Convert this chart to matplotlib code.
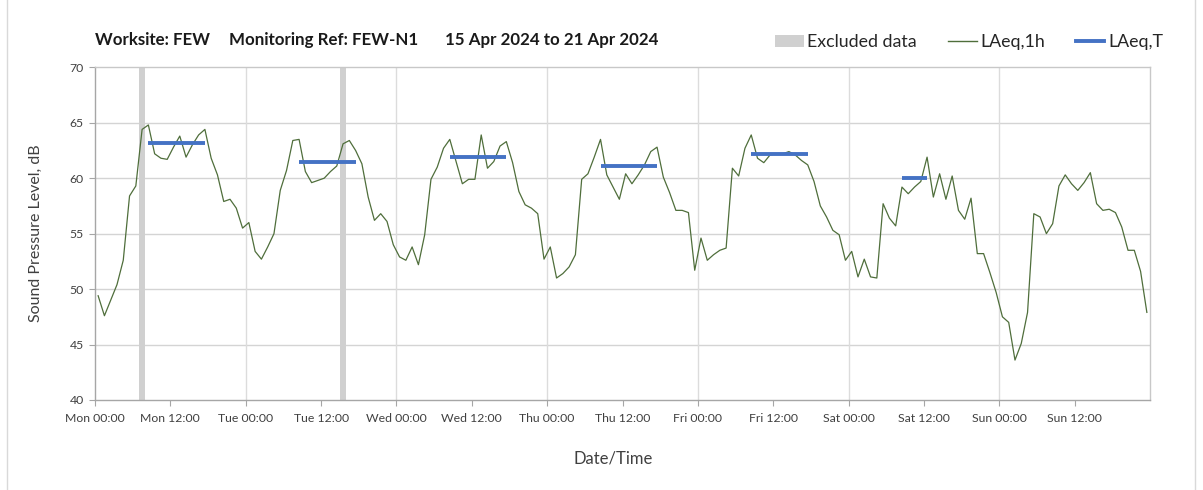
import numpy as np
import matplotlib
matplotlib.use("Agg")
import matplotlib.pyplot as plt
from matplotlib.patches import Patch
from matplotlib.lines import Line2D

plt.rcParams['font.family'] = ['Lato', 'DejaVu Sans']

# ---- data ----
laeq_1h = [
    49.4, 47.6, 49.0, 50.4, 52.6, 58.4, 59.3, 64.4, 64.8, 62.2,
    61.8, 61.7, 62.8, 63.8, 61.9, 63.0, 63.9, 64.4, 61.8, 60.3,
    57.9, 58.1, 57.3, 55.5, 56.0, 53.4, 52.7, 53.8, 55.0, 58.9,
    60.7, 63.4, 63.5, 60.6, 59.6, 59.8, 60.0, 60.6, 61.1, 63.1,
    63.4, 62.5, 61.3, 58.3, 56.2, 56.8, 56.1, 54.0, 52.9, 52.6,
    53.8, 52.2, 54.9, 59.9, 61.0, 62.7, 63.5, 61.5, 59.5, 59.9,
    59.9, 63.9, 60.9, 61.5, 62.9, 63.3, 61.4, 58.8, 57.6, 57.3,
    56.8, 52.7, 53.8, 51.0, 51.4, 52.0, 53.1, 59.9, 60.4, 61.9,
    63.5, 60.3, 59.2, 58.1, 60.4, 59.5, 60.3, 61.2, 62.4, 62.8,
    60.1, 58.7, 57.1, 57.1, 56.9, 51.7, 54.6, 52.6, 53.1, 53.5,
    53.7, 60.9, 60.2, 62.7, 63.9, 61.8, 61.4, 62.1, 62.2, 62.2,
    62.4, 62.1, 61.6, 61.2, 59.7, 57.5, 56.5, 55.3, 54.9, 52.6,
    53.4, 51.1, 52.7, 51.1, 51.0, 57.7, 56.4, 55.7, 59.2, 58.6,
    59.2, 59.7, 61.9, 58.3, 60.4, 58.1, 60.2, 57.1, 56.3, 58.2,
    53.2, 53.2, 51.5, 49.7, 47.5, 47.0, 43.6, 45.1, 47.9, 56.8,
    56.5, 55.0, 55.9, 59.3, 60.3, 59.5, 58.9, 59.6, 60.5, 57.7,
    57.1, 57.2, 56.9, 55.6, 53.5, 53.5, 51.6, 47.9,
]
hour_index = np.arange(len(laeq_1h))          # hourly periods from Mon 00:00

laeqT_values = [63.2, 61.5, 61.9, 61.1, 62.2, 60.0]
laeqT_start_hour = [8, 32, 56, 80, 104, 128]   # first hourly period
laeqT_end_hour = [17, 41, 65, 89, 113, 132]    # last hourly period

excluded_hours = [7, 39]

tick_labels = ['Mon 00:00', 'Mon 12:00', 'Tue 00:00', 'Tue 12:00', 'Wed 00:00',
               'Wed 12:00', 'Thu 00:00', 'Thu 12:00', 'Fri 00:00', 'Fri 12:00',
               'Sat 00:00', 'Sat 12:00', 'Sun 00:00', 'Sun 12:00']

title_parts = ["Worksite: FEW", "Monitoring Ref: FEW-N1", "15 Apr 2024 to 21 Apr 2024"]

# ---- figure ----
W, H = 1203, 490
fig = plt.figure(figsize=(W / 100, H / 100), dpi=100)
ax = fig.add_axes([95 / W, 1 - 400 / H, (1150 - 95) / W, (400 - 67.3) / H])

green = '#4f6e3b'
blue = '#4472c4'
grey_bar = '#d0d0d0'

for h in excluded_hours:
    ax.axvspan(h, h + 1, color=grey_bar, lw=0, zorder=1)

ax.plot(hour_index + 0.5, laeq_1h, color=green, lw=0.9, zorder=3)
for v, s, e in zip(laeqT_values, laeqT_start_hour, laeqT_end_hour):
    ax.hlines(v, s + 0.5, e + 0.5, color=blue, lw=2.8, zorder=4)

ax.set_xlim(0, 168)
ax.set_ylim(40, 70)
ax.set_xticks(np.arange(0, 168, 12))
ax.set_xticklabels(tick_labels)
ax.set_yticks(np.arange(40, 71, 5))
ax.tick_params(axis='both', direction='out', length=4, width=0.8,
               color='#a6a6a6', labelcolor='#404040', labelsize=8.8)
ax.tick_params(axis='x', pad=5)
ax.tick_params(axis='y', pad=4)

# gridlines
for y in np.arange(45, 70, 5):
    ax.axhline(y, color='#d4d4d4', lw=1.0, zorder=0)
for d in range(1, 7):
    ax.axvline(d * 24, color='#dcdcdc', lw=1.0, zorder=0)

for s in ['left', 'bottom']:
    ax.spines[s].set_color('#a6a6a6')
    ax.spines[s].set_linewidth(1.0)
for s in ['top', 'right']:
    ax.spines[s].set_color('#c8c8c8')
    ax.spines[s].set_linewidth(1.0)

for part, xpix in zip(title_parts, [95, 229, 445]):
    fig.text(xpix / W, 1 - 40 / H, part, fontsize=12.2, fontweight='bold',
             color='#1a1a1a', va='center', ha='left')
fig.text(36 / W, 1 - 233 / H, 'Sound Pressure Level, dB', rotation=90,
         fontsize=11.5, color='#404040', ha='center', va='center')
fig.text(613 / W, 1 - 458 / H, 'Date/Time', fontsize=12, color='#404040',
         ha='center', va='center')

handles = [Patch(facecolor=grey_bar, edgecolor='none'),
           Line2D([], [], color=green, lw=1.0),
           Line2D([], [], color=blue, lw=2.8)]
fig.legend(handles, ['Excluded data', 'LAeq,1h', 'LAeq,T'], loc='center right',
           bbox_to_anchor=(1179 / W, 1 - 42 / H), ncol=3, frameon=False,
           fontsize=12.8, handlelength=1.6, handletextpad=0.2,
           columnspacing=1.75, labelcolor='#262626')

# chart-area border lines
fig.add_artist(Line2D([7 / W, 7 / W], [0, 1], color='#d9d9d9', lw=1.0))
fig.add_artist(Line2D([1195 / W, 1195 / W], [0, 1], color='#d9d9d9', lw=1.0))

fig.savefig('out.png', dpi=100)
